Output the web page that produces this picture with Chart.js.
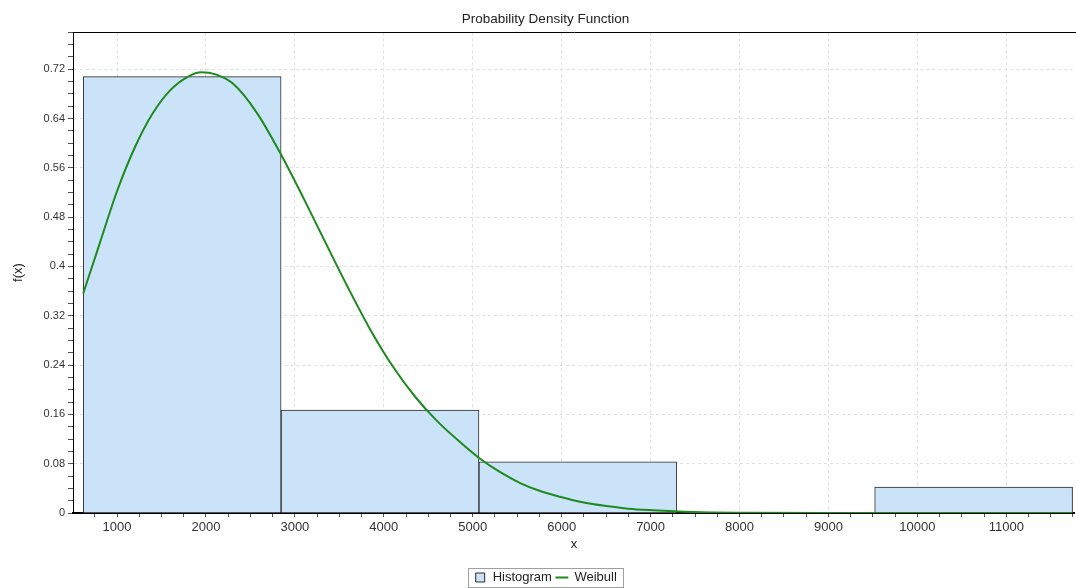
<!DOCTYPE html>
<html>
<head>
<meta charset="utf-8">
<script src="https://cdn.jsdelivr.net/npm/chart.js@4/dist/chart.umd.min.js"></script>
<style>
  html, body { margin: 0; padding: 0; background: #fff; }
  #wrap { width: 1076px; height: 588px; }
</style>
</head>
<body>
<div id="wrap"><canvas id="pdfChart"></canvas></div>
<script>
// histogram bins (edges) and relative frequencies
var binEdges = [620, 2845, 5070, 7295, 9520, 11745];
var histValues = [0.708, 0.167, 0.083, 0, 0.042];

// fitted Weibull curve
var curveX = [620, 800, 1000, 1200, 1400, 1600, 1800, 1950, 2100, 2300, 2569, 2850, 3100, 3350, 3600, 3850, 4100, 4350, 4600, 4850, 5079, 5300, 5528, 5750, 5978, 6250, 6502, 6750, 7026, 7476, 8000, 9000, 10000, 11000, 11745];
var curveY = [0.356, 0.435, 0.522, 0.593, 0.648, 0.686, 0.708, 0.715, 0.712, 0.697, 0.650, 0.580, 0.510, 0.437, 0.365, 0.297, 0.238, 0.189, 0.149, 0.116, 0.0885, 0.067, 0.049, 0.036, 0.0264, 0.017, 0.0113, 0.007, 0.0045, 0.0017, 0.0005, 0, 0, 0, 0];

// axis ticks
var xTicks = [1000, 2000, 3000, 4000, 5000, 6000, 7000, 8000, 9000, 10000, 11000];
var yTicks = [0, 0.08, 0.16, 0.24, 0.32, 0.4, 0.48, 0.56, 0.64, 0.72];

var xMin = 505, xMax = 11770, yMax = 0.78;

var histData = histValues.map(function (v, i) {
  return { x: (binEdges[i] + binEdges[i + 1]) / 2, y: v };
});
var curveData = curveX.map(function (x, i) { return { x: x, y: curveY[i] }; });

function isMajor(list, v) {
  return list.some(function (t) { return Math.abs(t - v) < 1e-6; });
}

Chart.defaults.font.family = "'Liberation Sans', Arial, sans-serif";
Chart.defaults.font.size = 12;
Chart.defaults.color = '#333';

// top frame line + box around the legend
var frame = {
  id: 'frame',
  afterDraw: function (chart) {
    var ctx = chart.ctx, a = chart.chartArea;
    ctx.save();
    ctx.strokeStyle = '#000';
    ctx.lineWidth = 1;
    ctx.beginPath();
    ctx.moveTo(a.left, Math.round(a.top) + 0.5);
    ctx.lineTo(chart.width, Math.round(a.top) + 0.5);
    ctx.stroke();
    var boxes = chart.legend.legendHitBoxes;
    if (boxes && boxes.length) {
      var last = boxes[boxes.length - 1];
      var l = Math.round(boxes[0].left - 6), r = Math.round(last.left + last.width + 6);
      var t = Math.round(boxes[0].top - 3);
      ctx.strokeStyle = '#a0a0a0';
      ctx.strokeRect(l + 0.5, t + 0.5, r - l, boxes[0].height + 6);
    }
    ctx.restore();
  }
};

new Chart(document.getElementById('pdfChart'), {
  type: 'bar',
  data: {
    datasets: [{
      type: 'bar',
      label: 'Histogram',
      data: histData,
      backgroundColor: '#cbe3f9',
      borderColor: '#2a2a2a',
      borderWidth: 1,
      borderSkipped: 'start',
      barThickness: 'flex',
      barPercentage: 1,
      categoryPercentage: 1,
      pointStyle: 'rect',
      order: 1
    }, {
      type: 'line',
      label: 'Weibull',
      data: curveData,
      borderColor: '#1c8a1c',
      backgroundColor: '#1c8a1c',
      borderWidth: 2,
      pointRadius: 0,
      pointStyle: 'line',
      cubicInterpolationMode: 'monotone',
      fill: false,
      order: 0
    }]
  },
  options: {
    responsive: true,
    maintainAspectRatio: false,
    animation: false,
    layout: { padding: { left: 16, right: 1, bottom: -6 } },
    plugins: {
      title: {
        display: true,
        text: 'Probability Density Function',
        color: '#222',
        font: { size: 13.5, weight: 'normal' },
        padding: { top: 11, bottom: 5 }
      },
      legend: {
        position: 'bottom',
        labels: {
          usePointStyle: true,
          boxHeight: 9,
          boxWidth: 12,
          padding: 4,
          color: '#222',
          font: { size: 13 },
          sort: function (a, b) { return a.datasetIndex - b.datasetIndex; }
        }
      },
      tooltip: { enabled: false }
    },
    scales: {
      x: {
        type: 'linear',
        min: xMin,
        max: xMax,
        offset: false,
        afterBuildTicks: function (axis) {
          var t = [];
          for (var v = 750; v <= 11750; v += 250) t.push({ value: v });
          axis.ticks = t;
        },
        afterFit: function (axis) { axis.height = 54; },
        ticks: {
          autoSkip: false,
          maxRotation: 0,
          padding: 3,
          color: '#333',
          font: { size: 13 },
          callback: function (v) { return isMajor(xTicks, v) ? String(v) : ''; }
        },
        grid: {
          offset: false,
          color: function (c) { return c.tick && isMajor(xTicks, c.tick.value) ? '#e0e0e0' : 'transparent'; },
          tickColor: '#555',
          tickLength: 4
        },
        border: { display: true, color: '#000', width: 2, dash: [3, 3] },
        title: { display: true, text: 'x', color: '#222', font: { size: 13 }, padding: { top: 3, bottom: 15 } }
      },
      y: {
        min: 0,
        max: yMax,
        afterBuildTicks: function (axis) {
          var t = [];
          for (var i = 0; i <= 39; i++) t.push({ value: Math.round(i * 2) / 100 });
          axis.ticks = t;
        },
        afterFit: function (axis) { axis.width = 57; },
        ticks: {
          autoSkip: false,
          padding: 3,
          color: '#333',
          font: { size: 11 },
          callback: function (v) { return isMajor(yTicks, v) ? String(+v.toFixed(2)) : ''; }
        },
        grid: {
          color: function (c) { return c.tick && isMajor(yTicks, c.tick.value) && c.tick.value > 0 ? '#e0e0e0' : 'transparent'; },
          tickColor: '#555',
          tickLength: 5
        },
        border: { display: true, color: '#000', width: 1, dash: [3, 3] },
        title: { display: true, text: 'f(x)', color: '#222', font: { size: 13 }, padding: { top: -5, bottom: 0 } }
      }
    }
  },
  plugins: [frame]
});
</script>
</body>
</html>
